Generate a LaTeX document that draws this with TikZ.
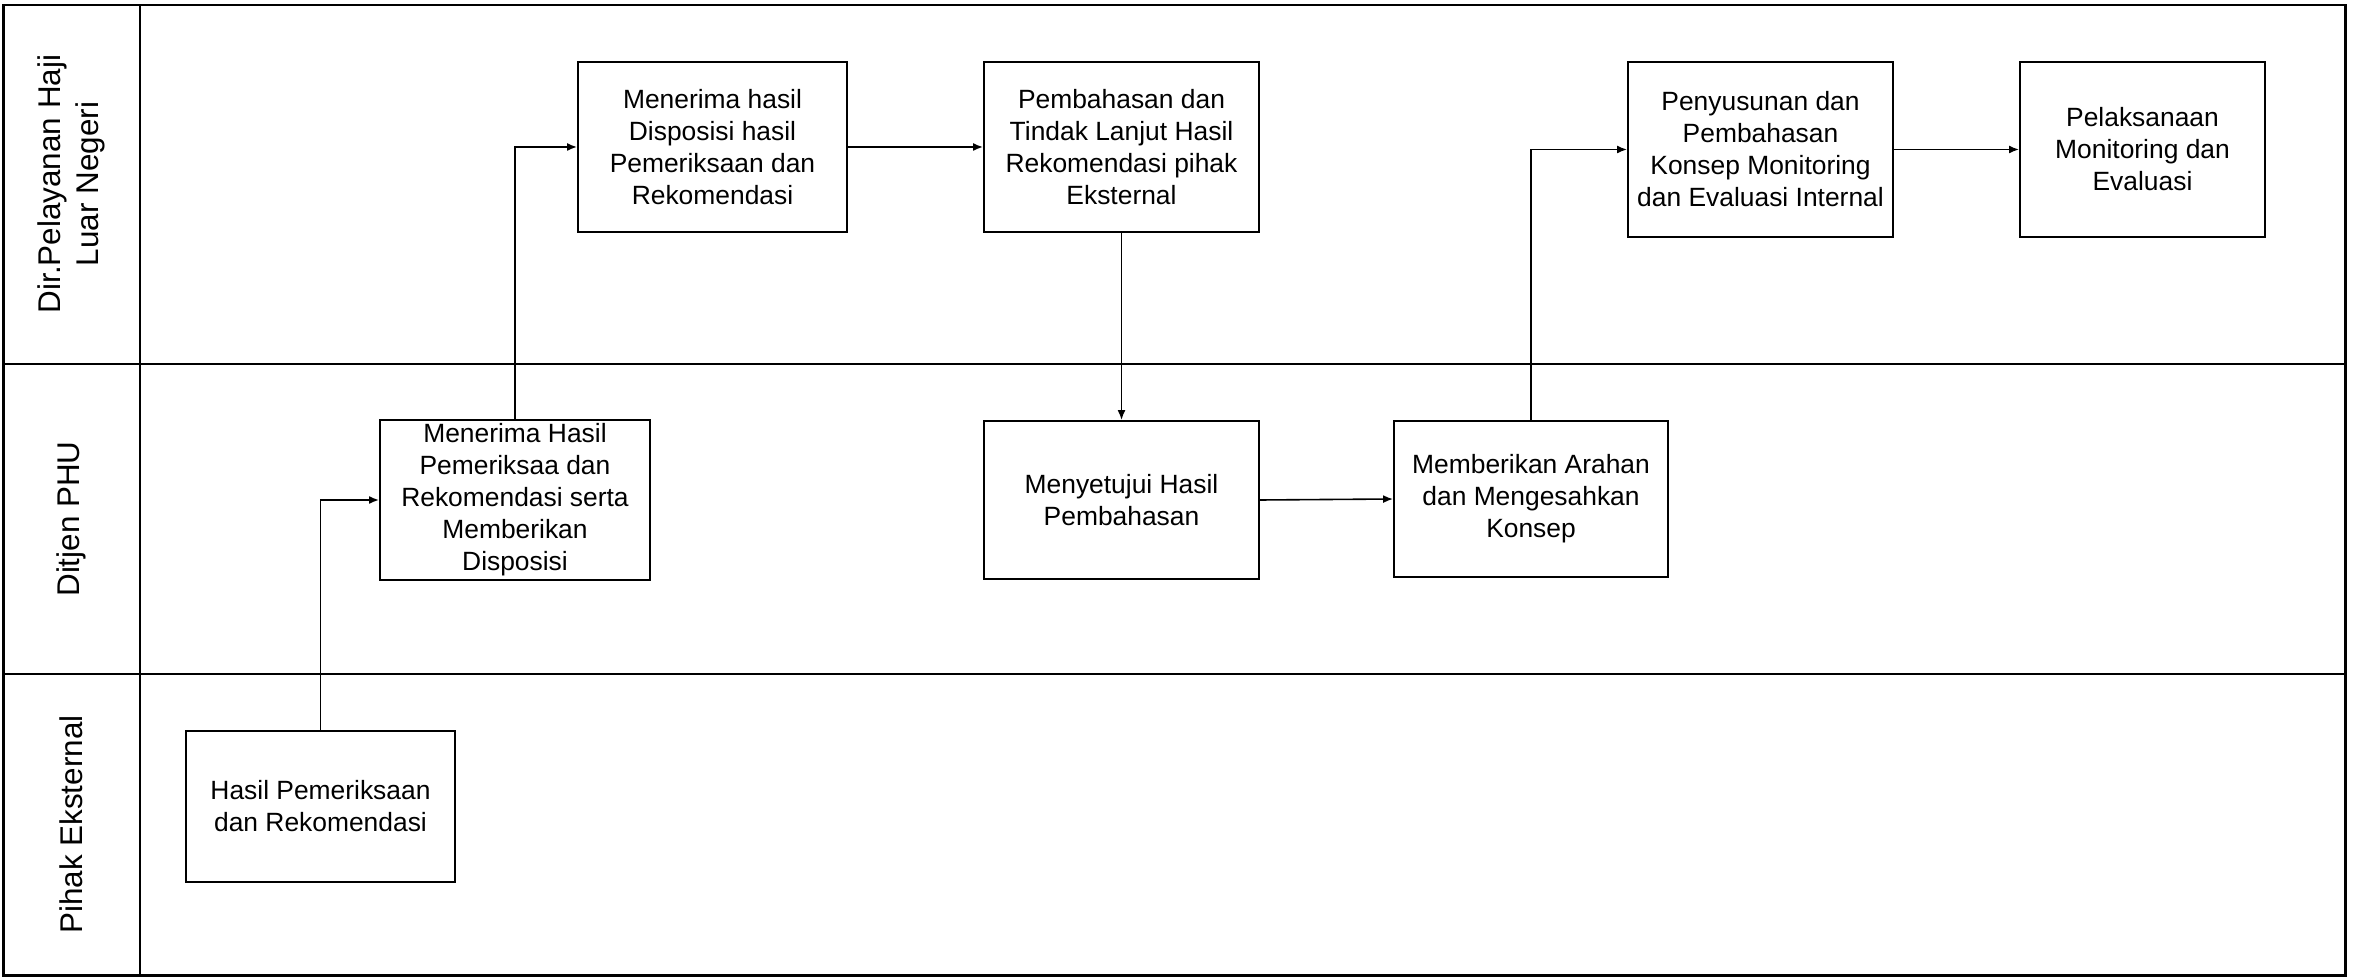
\documentclass[tikz,border=0pt]{standalone}
\usepackage{fontspec}
\setmainfont{Liberation Sans}
\usetikzlibrary{arrows.meta}
\begin{document}
\begin{tikzpicture}[x=0.5pt,y=-0.5pt,
  lane/.style={line width=1.1pt},
  lanelabel/.style={rotate=90,align=center,font=\fontsize{15.7}{19}\selectfont},
  proc/.style={draw,line width=0.95pt,align=center,inner sep=2pt,font=\fontsize{13.2}{16}\selectfont},
  flow/.style={line width=0.8pt,-{Latex[length=5pt,width=4pt]}}]
\useasboundingbox (0,0) rectangle (2354,977);
% swimlane frame
\draw[lane] (3.5,5) rectangle (2345.5,975.5);
\draw[lane] (3.5,364) -- (2345.5,364);
\draw[lane] (3.5,674) -- (2345.5,674);
\draw[lane] (140,5) -- (140,975.5);
% lane headers
\node[lanelabel] (dirlane) at (71.5,184) {Dir.Pelayanan Haji\\Luar Negeri};
\node[lanelabel] (phulane) at (71.5,519) {Ditjen PHU};
\node[lanelabel] (extlane) at (71.5,824.5) {Pihak Eksternal};
% Dir. Pelayanan Haji Luar Negeri
\node[proc,minimum width=134.5pt,minimum height=85pt] (disposisi) at (712.5,147)
  {Menerima hasil\\Disposisi hasil\\Pemeriksaan dan\\Rekomendasi};
\node[proc,minimum width=137.5pt,minimum height=85pt] (bahasan) at (1121.5,147)
  {Pembahasan dan\\Tindak Lanjut Hasil\\Rekomendasi pihak\\Eksternal};
\node[proc,minimum width=132.5pt,minimum height=87.5pt] (konsep) at (1760.5,149.5)
  {Penyusunan dan\\Pembahasan\\Konsep Monitoring\\dan Evaluasi Internal};
\node[proc,minimum width=122.5pt,minimum height=87.5pt] (monev) at (2142.5,149.5)
  {Pelaksanaan\\Monitoring dan\\Evaluasi};
% Ditjen PHU
\node[proc,minimum width=135pt,minimum height=79pt] (terimarek) at (515,500)
  {Menerima Hasil\\Pemeriksaa dan\\Rekomendasi serta\\Memberikan\\Disposisi};
\node[proc,minimum width=137.5pt,minimum height=79pt] (setujui) at (1121.5,500)
  {Menyetujui Hasil\\Pembahasan};
\node[proc,minimum width=137pt,minimum height=78pt] (arahan) at (1531,499)
  {Memberikan Arahan\\dan Mengesahkan\\Konsep};
% Pihak Eksternal
\node[proc,minimum width=134.5pt,minimum height=75.5pt] (hasilrek) at (320.5,806.5)
  {Hasil Pemeriksaan\\dan Rekomendasi};
% flow
\draw[flow] (hasilrek.north) |- (terimarek.west);
\draw[flow] (terimarek.north) |- (disposisi.west);
\draw[flow] (disposisi.east) -- (bahasan.west);
\draw[flow] (bahasan.south) -- (setujui.north);
\draw[flow] (setujui.east) -- (arahan.west);
\draw[flow] (arahan.north) |- (konsep.west);
\draw[flow] (konsep.east) -- (monev.west);
\end{tikzpicture}
\end{document}
